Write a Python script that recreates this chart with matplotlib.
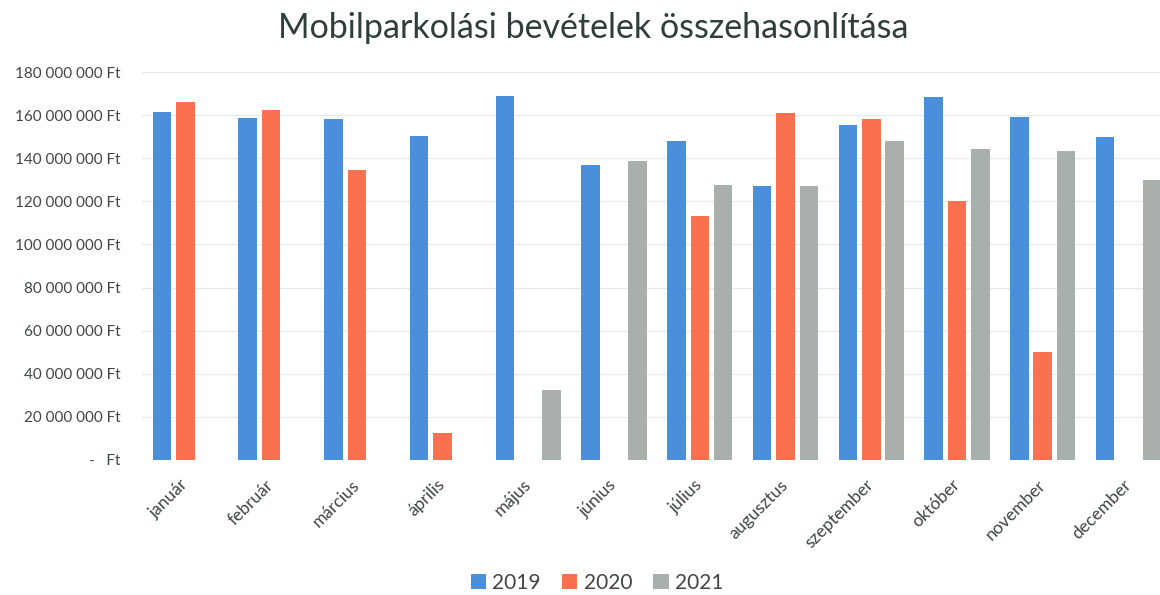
import matplotlib
matplotlib.use("Agg")
import matplotlib.pyplot as plt
import numpy as np
from matplotlib.patches import Patch

months = ["január", "február", "március", "április", "május", "június",
          "július", "augusztus", "szeptember", "október", "november", "december"]
series_names = ["2019", "2020", "2021"]
v2019 = [161.5, 158.5, 158.0, 150.5, 169.0, 137.0, 148.0, 127.0, 155.5, 168.5, 159.0, 150.0]
v2020 = [166.0, 162.5, 134.5, 12.5, np.nan, np.nan, 113.0, 161.0, 158.0, 120.0, 50.0, np.nan]
v2021 = [np.nan, np.nan, np.nan, np.nan, 32.5, 138.5, 127.5, 127.0, 148.0, 144.5, 143.5, 130.0]
yticks = [0, 20, 40, 60, 80, 100, 120, 140, 160, 180]
ytick_labels = ["-   Ft", "20 000 000 Ft", "40 000 000 Ft", "60 000 000 Ft", "80 000 000 Ft",
                "100 000 000 Ft", "120 000 000 Ft", "140 000 000 Ft", "160 000 000 Ft",
                "180 000 000 Ft"]
colors = ["#4A8FD9", "#F9714F", "#A9AFAB"]

plt.rcParams['font.family'] = ['Lato', 'DejaVu Sans']
text_color = "#404545"

fig = plt.figure(figsize=(11.6, 5.95), dpi=100)
ax = fig.add_axes([0.1228, 0.2269, 0.887, 0.652])

x = np.arange(len(months))
off = 0.273
w = 0.216
scale = 1e6
for i, (vals, c) in enumerate(zip([v2019, v2020, v2021], colors)):
    vals = np.array(vals, dtype=float) * scale
    ax.bar(x + (i - 1) * off, np.nan_to_num(vals), width=w, color=c, zorder=3)

ax.set_xlim(-0.5, len(months) - 0.5)
ax.set_ylim(0, 180 * scale)
ax.set_yticks([t * scale for t in yticks])
ax.set_yticklabels(ytick_labels)
ax.yaxis.grid(True, color="#e8e8e8", linewidth=0.9, zorder=0)
ax.set_axisbelow(True)
for s in ax.spines.values():
    s.set_visible(False)
ax.tick_params(axis='y', length=0, pad=16, labelsize=11, labelcolor=text_color)
ax.set_xticks(x)
ax.set_xticklabels(months, rotation=45, ha='right', va='center', rotation_mode='anchor')
ax.tick_params(axis='x', length=0, pad=16, labelsize=12.5, labelcolor=text_color)

fig.text(593 / 1160, 1 - 28 / 595, "Mobilparkolási bevételek összehasonlítása",
         ha='center', va='center', fontsize=24.5, color="#2f3d3d")

handles = [Patch(facecolor=c, edgecolor='none') for c in colors]
fig.legend(handles, series_names, loc='center', bbox_to_anchor=(597 / 1160, 1 - 583 / 595),
           ncol=3, frameon=False, fontsize=15, handlelength=0.75, handleheight=0.75,
           handletextpad=0.3, columnspacing=1.0, labelcolor=text_color)

fig.savefig("out.png", dpi=100)
